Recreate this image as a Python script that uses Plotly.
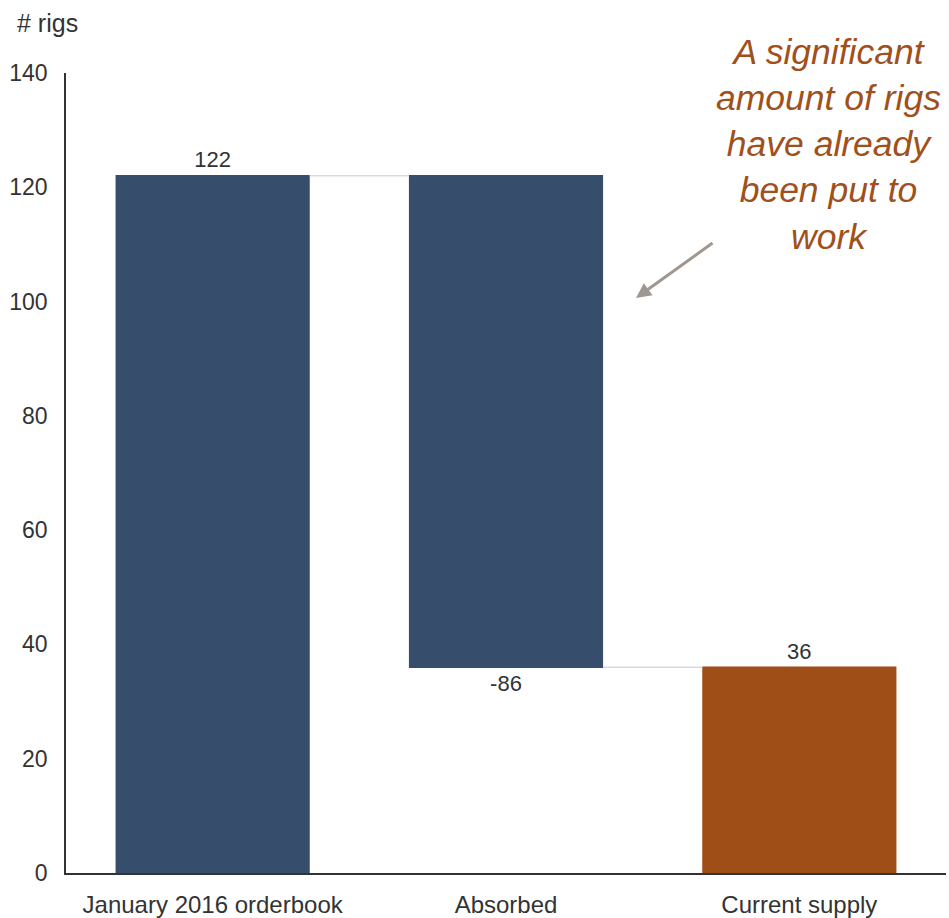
import plotly.graph_objects as go

categories = ["January 2016 orderbook", "Absorbed", "Current supply"]
values = [122, -86, 36]
measures = ["relative", "relative", "total"]
labels = ["122", "-86", "36"]
y_ticks = [0, 20, 40, 60, 80, 100, 120, 140]

NAVY = "#374D6C"
ORANGE = "#A04E17"
FONT = "Liberation Sans, Arial, sans-serif"

fig = go.Figure(go.Waterfall(
    x=categories,
    y=values,
    measure=measures,
    text=labels,
    textposition="outside",
    textfont=dict(size=22, color="#333333", family=FONT),
    increasing=dict(marker=dict(color=NAVY)),
    decreasing=dict(marker=dict(color=NAVY)),
    totals=dict(marker=dict(color=ORANGE)),
    connector=dict(mode="between", line=dict(color="#D9D9D9", width=1.5)),
    cliponaxis=False,
    hoverinfo="skip",
))

fig.update_layout(
    width=949, height=918,
    margin=dict(l=66, r=3, t=73, b=45),
    plot_bgcolor="white", paper_bgcolor="white",
    font=dict(family=FONT, size=23, color="#333333"),
    showlegend=False,
    waterfallgap=0.338,
    xaxis=dict(
        showline=True, linecolor="#333333", linewidth=1.5,
        ticks="", showgrid=False, zeroline=False, automargin=False,
        tickfont=dict(size=24, color="#333333"),
        ticklabelstandoff=9,
    ),
    yaxis=dict(
        range=[0, 140], tickvals=y_ticks,
        showline=True, linecolor="#333333", linewidth=1.5,
        ticks="", showgrid=False, zeroline=False, automargin=False,
        tickfont=dict(size=23, color="#333333"),
        ticklabelstandoff=12,
    ),
    annotations=[
        dict(text="# rigs", xref="paper", yref="paper",
             x=-0.058, y=1.0625, xanchor="left", yanchor="middle",
             showarrow=False, font=dict(size=25, color="#333333")),
        dict(text="<i>A significant<br>amount of rigs<br>have already<br>been put to<br>work</i>",
             xref="paper", yref="paper", x=(828 - 66) / 880, y=(873 - 145) / 800,
             xanchor="center", yanchor="middle",
             align="center", showarrow=False,
             font=dict(size=35.5, color="#A0501A")),
        dict(text="", xref="paper", yref="paper",
             x=(636 - 66) / 880, y=(873 - 298) / 800,
             ax=78, ay=-56, showarrow=True, arrowhead=2, arrowsize=1,
             arrowwidth=3, arrowcolor="#A09890"),
    ],
)

fig.write_html("out.html", config={"displayModeBar": False},
               post_script="document.body.style.margin='0';")
